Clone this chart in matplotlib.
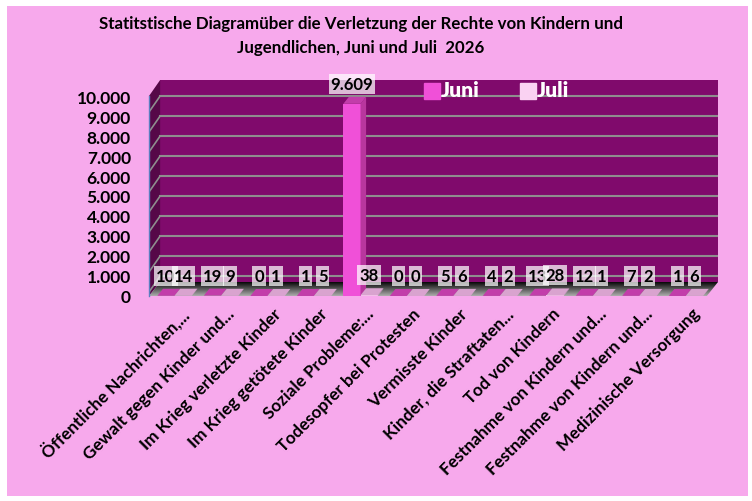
import numpy as np
import matplotlib.pyplot as plt
from matplotlib.patches import Polygon, Rectangle
from matplotlib.lines import Line2D

plt.rcParams['font.family'] = ['Lato', 'DejaVu Sans']
plt.rcParams['font.weight'] = 'bold'

# ---- data ----
categories = [
    "Öffentliche Nachrichten,...",
    "Gewalt gegen Kinder und...",
    "Im Krieg verletzte Kinder",
    "Im Krieg getötete Kinder",
    "Soziale Probleme:...",
    "Todesopfer bei Protesten",
    "Vermisste Kinder",
    "Kinder, die Straftaten...",
    "Tod von Kindern",
    "Festnahme von Kindern und...",
    "Festnahme von Kindern und...",
    "Medizinische Versorgung",
]
juni = [10, 19, 0, 1, 9609, 0, 5, 4, 13, 12, 7, 1]
juli = [14, 9, 1, 5, 38, 0, 6, 2, 28, 1, 2, 6]
series_names = ["Juni", "Juli"]
y_ticks = list(range(0, 10001, 1000))
title = ("Statitstische Diagramüber die Verletzung der Rechte von Kindern und\n"
         "Jugendlichen, Juni und Juli  2026")

# ---- colours ----
bg_pink = "#F7A9EC"
wall_c = "#800A6C"
side_wall_c = "#560848"
grid_c = "#8E8E8E"
juni_c = "#F050D8"
juni_side = "#B8369E"
juni_top = "#C23DAA"
juli_c = "#F9C9EF"
juli_side = "#D49ACB"
juli_top = "#D9A3CF"


def de_fmt(v):
    return f"{v:,}".replace(",", ".")


fig = plt.figure(figsize=(7.52, 5.02), dpi=100)
fig.patch.set_facecolor("white")
fig.patches.append(Rectangle((7 / 752, 5 / 502), 741 / 752, 490 / 502,
                             transform=fig.transFigure, facecolor=bg_pink,
                             edgecolor="none", zorder=-10))

ax = fig.add_axes([149 / 752, (502 - 297) / 502, 569 / 752, 216 / 502])
ax.set_zorder(2)
ax.set_facecolor("none")
x0, x1 = -0.55, 11.69
ymax = 10800
dx, dy = 0.24, 700  # fake 3D depth
ax.set_xlim(x0, x1)
ax.set_ylim(0, ymax)

# back wall, side wall and floor
ax.add_patch(Rectangle((x0 + dx, dy), x1 - x0 - dx, ymax - dy,
                       facecolor=wall_c, edgecolor="none", zorder=1))
ax.add_patch(Polygon([(x0, 0), (x0 + dx, dy), (x0 + dx, ymax), (x0, ymax - 800)],
                     closed=True, facecolor=side_wall_c, edgecolor="none", zorder=1))
floor = Polygon([(x0, 0), (x1 - dx, 0), (x1, dy), (x0 + dx, dy)], closed=True,
                facecolor="none", edgecolor="none", zorder=1)
ax.add_patch(floor)
grad = np.linspace(0, 1, 50).reshape(-1, 1)
img = ax.imshow(grad, extent=[x0, x1, 0, dy], origin="upper", cmap="gray",
                vmin=-0.05, vmax=1.5, aspect="auto", zorder=1.5)
img.set_clip_path(floor)

# grid lines on back and side wall
for v in y_ticks[1:]:
    ax.plot([x0 + dx, x1], [v, v], color=grid_c, lw=1.5, zorder=2)
    ax.plot([x0, x0 + dx], [v - 800, v], color=grid_c, lw=1.2, zorder=2)

# bars with simple 3D faces
w = 0.37
bdx, bdy = 0.12, 350
xs = np.arange(len(categories))
for vals, off, fc, sc, tc in [(juni, -w / 2, juni_c, juni_side, juni_top),
                              (juli, w / 2, juli_c, juli_side, juli_top)]:
    ax.bar(xs + off, vals, width=w, color=fc, edgecolor="none", zorder=3)
    for x, v in zip(xs + off, vals):
        ax.add_patch(Polygon([(x + w / 2, 0), (x + w / 2 + bdx, bdy),
                              (x + w / 2 + bdx, v + bdy), (x + w / 2, v)],
                             closed=True, facecolor=sc, edgecolor="none", zorder=3))
        ax.add_patch(Polygon([(x - w / 2, v), (x + w / 2, v),
                              (x + w / 2 + bdx, v + bdy), (x - w / 2 + bdx, v + bdy)],
                             closed=True, facecolor=tc, edgecolor="none", zorder=3))

# data labels
for vals, off in [(juni, -w / 2), (juli, w / 2)]:
    for x, v in zip(xs + off, vals):
        ax.annotate(de_fmt(v), xy=(x, v), xytext=(0, 20), textcoords="offset pixels",
                    ha="center", va="center", fontsize=12, fontweight="bold",
                    color="black", zorder=5, annotation_clip=False,
                    bbox=dict(boxstyle="square,pad=0.12", fc="white", ec="none", alpha=0.72))

# axes styling
for s in ["top", "right", "bottom"]:
    ax.spines[s].set_visible(False)
ax.spines["left"].set_color("#5B7FC0")
ax.spines["left"].set_linewidth(1)
ax.spines["left"].set_bounds(0, 10000)
ax.spines["left"].set_zorder(4)
ax.set_yticks(y_ticks)
ax.set_yticklabels([de_fmt(v) for v in y_ticks], fontsize=12.5, fontweight="bold")
ax.tick_params(axis="y", length=0, pad=13)
ax.set_xticks([])

for x, lab in zip(xs, categories):
    ax.annotate(lab, xy=(x + 0.12, 0), xytext=(0, -9), textcoords="offset pixels",
                rotation=45, ha="right", va="top", rotation_mode="anchor",
                fontsize=12.3, fontweight="bold", annotation_clip=False)

handles = [Line2D([], [], marker="s", ls="", color=juni_c, ms=11),
           Line2D([], [], marker="s", ls="", color="#FAD2F2", ms=11)]
leg = ax.legend(handles, series_names, ncol=2, frameon=False, loc="center",
                bbox_to_anchor=(0.612, 0.958), handletextpad=0.2,
                columnspacing=3.0, handlelength=0.9)
for t in leg.get_texts():
    t.set_color("white")
    t.set_fontsize(15)
    t.set_fontweight("heavy")

fig.text(361 / 752, 1 - 36 / 502, title, ha="center", va="center",
         fontsize=12.2, fontweight="bold", linespacing=1.55)

fig.savefig("out.png", dpi=100)
